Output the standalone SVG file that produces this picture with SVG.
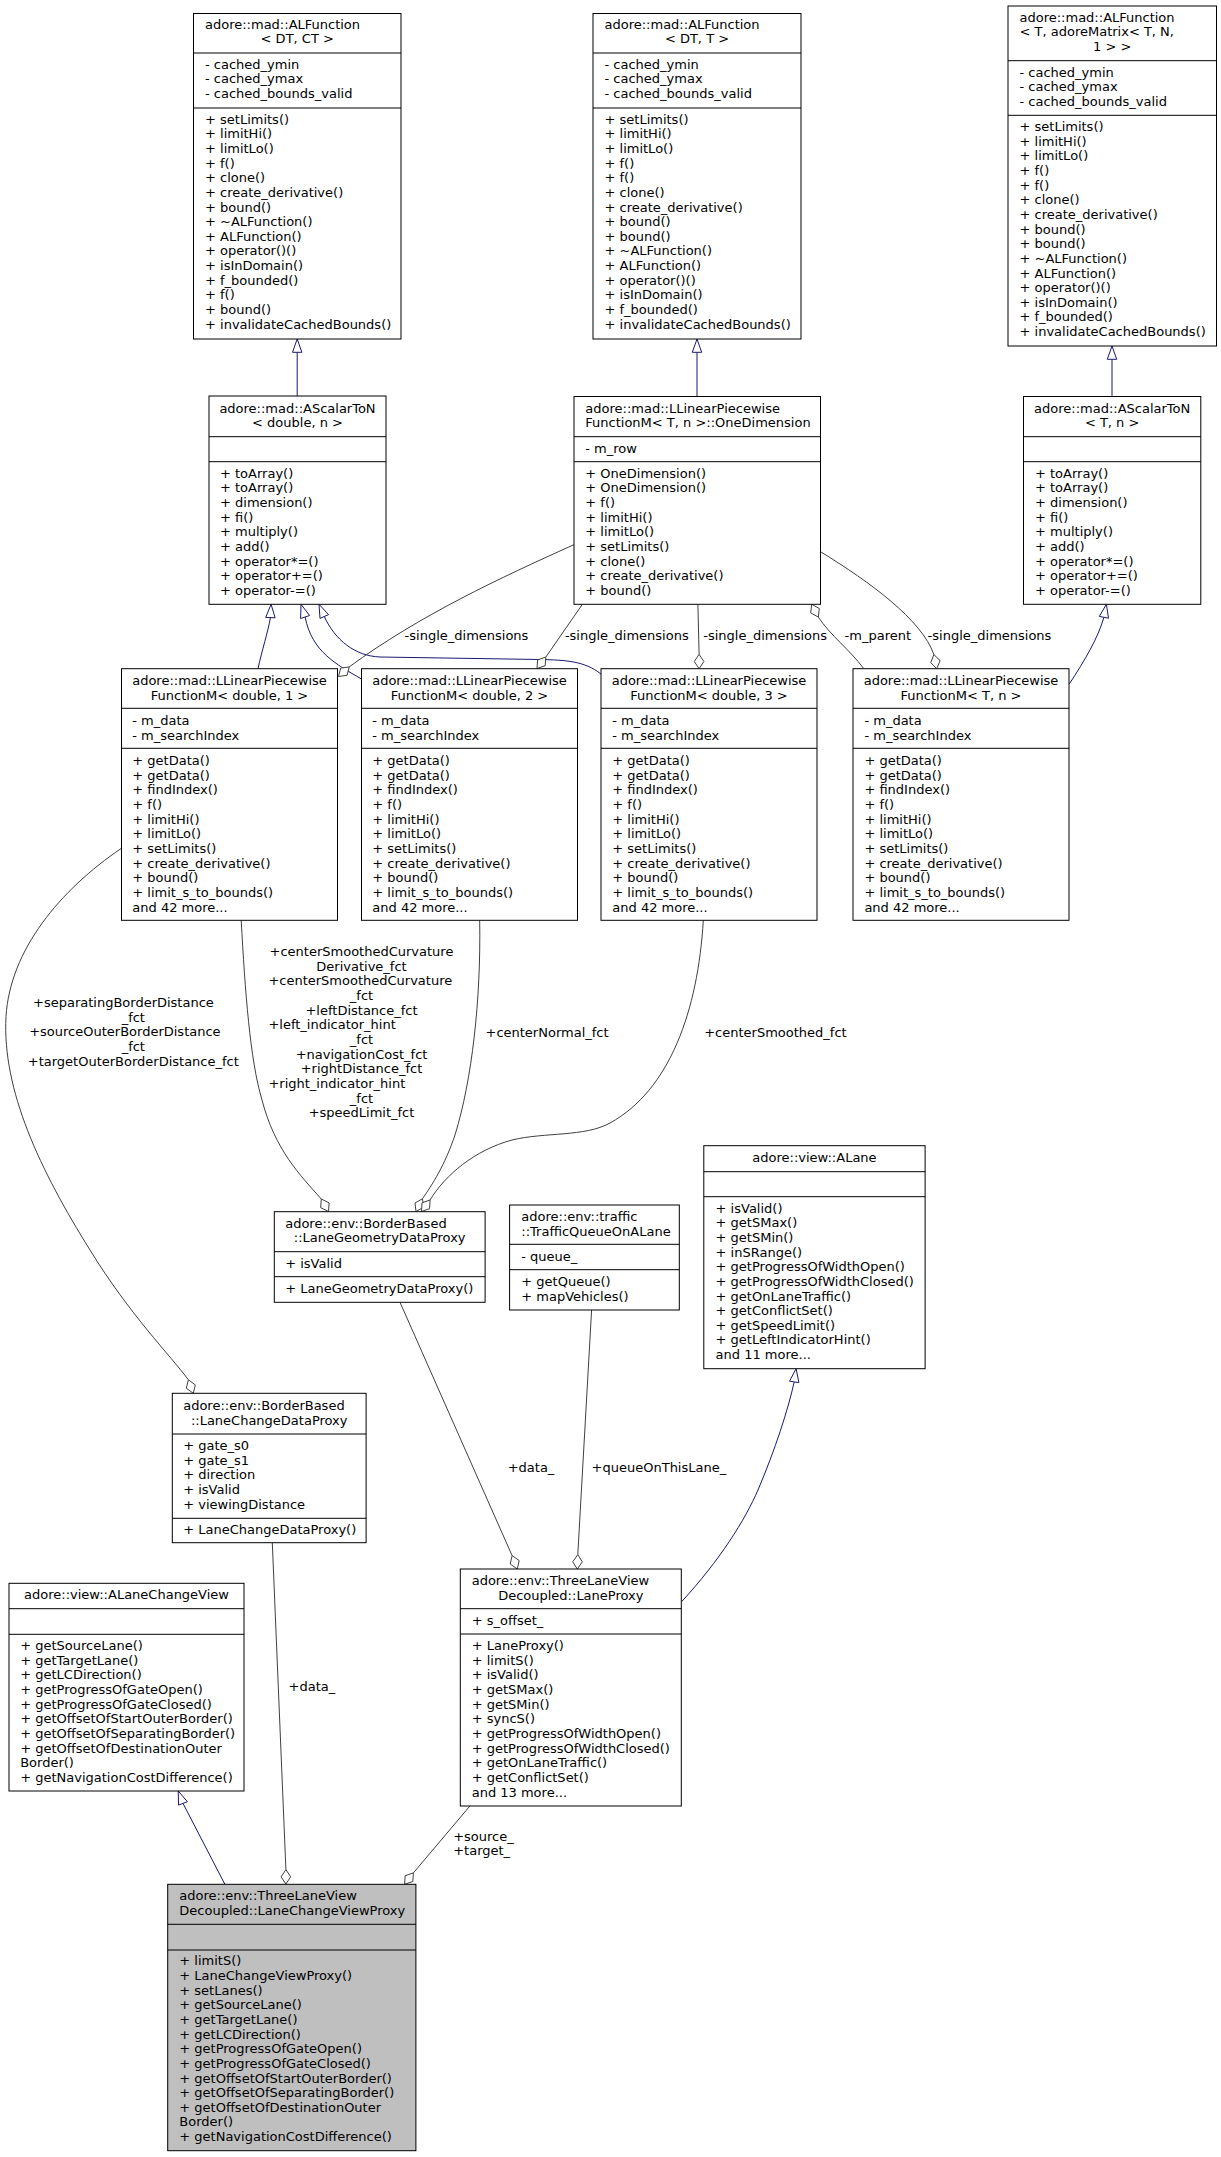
<svg xmlns="http://www.w3.org/2000/svg" width="1221" height="2157" viewBox="0 0 1221 2157">
<style>
rect{fill:#fff;stroke:#000;stroke-width:1}
rect.main{fill:#bfbfbf}
path.sep{stroke:#000;stroke-width:1;fill:none}
text{font-family:"DejaVu Sans",sans-serif;font-size:13px;fill:#000}
.c{text-anchor:middle}
.inh{stroke:#191970;fill:none;stroke-width:1}
.inhh{fill:#fff;stroke:#191970;stroke-width:1}
.agg{stroke:#404040;fill:none;stroke-width:1}
.aggh{fill:#fff;stroke:#404040;stroke-width:1}
</style>
<rect x="0" y="0" width="1221" height="2157" style="fill:#fff;stroke:none"/>
<g id="edges">
<!-- inheritance -->
<path class="inh" d="M297.2,396 V352.3"/>
<polygon class="inhh" points="297.2,339 301.9,352.3 292.5,352.3"/>
<path class="inh" d="M697,396.5 V352.3"/>
<polygon class="inhh" points="697,339 701.7,352.3 692.3,352.3"/>
<path class="inh" d="M1112,396.5 V359.3"/>
<polygon class="inhh" points="1112,346 1116.7,359.3 1107.3,359.3"/>
<path class="inh" d="M258,668.7 C262,650 268,632 270.4,617.6"/>
<polygon class="inhh" points="271.1,604.3 275.1,617.8 265.7,617.4"/>
<path class="inh" d="M361.4,679 C336,664 312,652 305.1,617"/>
<polygon class="inhh" points="301,604.3 309.6,615.5 300.6,618.5"/>
<path class="inh" d="M600.9,674 C585,661 565,660 540,659.5 L380,657 C355,656 335,640 324.3,616.5"/>
<polygon class="inhh" points="319,604.3 328.6,614.6 320,618.4"/>
<path class="inh" d="M1069.3,684 C1085,660 1098,638 1103.9,617.3"/>
<polygon class="inhh" points="1106.4,604.3 1108.5,618.2 1099.3,616.4"/>
<path class="inh" d="M681.6,1601.7 C720,1560 745,1520 758,1490 C775,1450 788,1410 794.2,1381.9"/>
<polygon class="inhh" points="796.1,1368.7 798.9,1382.6 789.5,1381.2"/>
<path class="inh" d="M224.9,1884.3 L183,1803.4"/>
<polygon class="inhh" points="178.2,1791 187.4,1801.7 178.6,1805.1"/>
<!-- aggregation -->
<path class="agg" d="M349.2,666.9 C420,615 500,578 573.9,544.7"/>
<polygon class="aggh" points="338.5,676.5 347.1,675.3 349.2,666.9 340.7,668.1"/>
<text x="404.6" y="640">-single_dimensions</text>
<path class="agg" d="M545.8,657.1 L582.4,604.3"/>
<polygon class="aggh" points="537,668.5 545.2,665.7 545.8,657.1 537.6,659.9"/>
<text x="564.9" y="640">-single_dimensions</text>
<path class="agg" d="M697.9,604.3 L699.1,654.3"/>
<polygon class="aggh" points="699.1,668.7 703.9,661.5 699.1,654.3 694.3,661.5"/>
<text x="703.3" y="640">-single_dimensions</text>
<path class="agg" d="M818.3,617.1 C830,635 850,650 863.5,668.3"/>
<polygon class="aggh" points="811.7,604.3 819.3,608.5 818.3,617.1 810.7,612.9"/>
<text x="844.6" y="640">-m_parent</text>
<path class="agg" d="M820.5,551.7 C870,582 922,620 933.9,654.6"/>
<polygon class="aggh" points="936.8,668.7 940.1,660.6 933.9,654.6 930.7,662.6"/>
<text x="927.6" y="640">-single_dimensions</text>
<path class="agg" d="M121.4,848.3 C60,890 10,950 6,1016.7 C2,1090 40,1170 90,1250 C130,1315 170,1355 188.4,1379.8"/>
<polygon class="aggh" points="193.3,1393.3 195.3,1384.9 188.4,1379.8 186.3,1388.2"/>
<text x="33" y="1007">+separatingBorderDistance</text>
<text class="c" x="133.3" y="1021.65">_fct</text>
<text x="29.2" y="1036.3">+sourceOuterBorderDistance</text>
<text class="c" x="133.3" y="1050.95">_fct</text>
<text class="c" x="133.3" y="1065.6">+targetOuterBorderDistance_fct</text>
<path class="agg" d="M241.2,920.3 C245,990 250,1060 262,1100 C275,1150 300,1175 321.3,1199"/>
<polygon class="aggh" points="328.5,1211.5 329.1,1202.9 321.3,1199 320.7,1207.7"/>
<text class="c" x="361.5" y="956">+centerSmoothedCurvature</text>
<text class="c" x="361.5" y="970.65">Derivative_fct</text>
<text x="268.4" y="985.3">+centerSmoothedCurvature</text>
<text class="c" x="361.5" y="999.95">_fct</text>
<text class="c" x="361.5" y="1014.6">+leftDistance_fct</text>
<text x="268.4" y="1029.25">+left_indicator_hint</text>
<text class="c" x="361.5" y="1043.9">_fct</text>
<text class="c" x="361.5" y="1058.55">+navigationCost_fct</text>
<text class="c" x="361.5" y="1073.2">+rightDistance_fct</text>
<text x="268.4" y="1087.85">+right_indicator_hint</text>
<text class="c" x="361.5" y="1102.5">_fct</text>
<text class="c" x="361.5" y="1117.15">+speedLimit_fct</text>
<path class="agg" d="M479.7,920.3 C481,1000 472,1080 455,1135 C445,1165 432,1185 422.5,1198.7"/>
<polygon class="aggh" points="416,1211.5 423.5,1207.3 422.5,1198.7 415,1203"/>
<text x="485.5" y="1036.6">+centerNormal_fct</text>
<path class="agg" d="M703.3,920.3 C698,1010 670,1090 610,1123 C585,1137 545,1132 512,1140 C475,1150 445,1175 430.1,1200"/>
<polygon class="aggh" points="421.5,1211.5 429.6,1208.6 430.1,1200 422,1202.8"/>
<text x="704.2" y="1036.6">+centerSmoothed_fct</text>
<path class="agg" d="M400,1302.3 L512.1,1555.6"/>
<polygon class="aggh" points="517.3,1569 519.2,1560.6 512.1,1555.6 510.2,1564"/>
<text x="507.7" y="1472">+data_</text>
<path class="agg" d="M591.6,1310 L577.8,1554.6"/>
<polygon class="aggh" points="577.3,1569 582.3,1561.8 577.8,1554.6 572.7,1561.8"/>
<text x="591.6" y="1472">+queueOnThisLane_</text>
<path class="agg" d="M272.3,1542.7 L285.9,1869.6"/>
<polygon class="aggh" points="285.9,1884 290.7,1876.8 285.9,1869.6 281.1,1876.8"/>
<text x="288.6" y="1691">+data_</text>
<path class="agg" d="M469.9,1806 L413.4,1872.9"/>
<polygon class="aggh" points="404.6,1884.3 412.8,1881.5 413.4,1872.9 405.2,1875.7"/>
<text x="453.2" y="1840.6">+source_</text>
<text x="453.2" y="1855.25">+target_</text>
</g>

<g id="ALFunction_DT_CT">
<rect x="193.5" y="13.5" width="207.5" height="325.5"/>
<path class="sep" d="M193.5,53H401M193.5,108H401"/>
<text x="205" y="28.6">adore::mad::ALFunction</text>
<text class="c" x="297.25" y="43.25">&lt; DT, CT &gt;</text>
<text x="205" y="68.6"><tspan x="205">- cached_ymin</tspan><tspan x="205" dy="14.65">- cached_ymax</tspan><tspan x="205" dy="14.65">- cached_bounds_valid</tspan></text>
<text x="205" y="123.6"><tspan x="205">+ setLimits()</tspan><tspan x="205" dy="14.65">+ limitHi()</tspan><tspan x="205" dy="14.65">+ limitLo()</tspan><tspan x="205" dy="14.65">+ f()</tspan><tspan x="205" dy="14.65">+ clone()</tspan><tspan x="205" dy="14.65">+ create_derivative()</tspan><tspan x="205" dy="14.65">+ bound()</tspan><tspan x="205" dy="14.65">+ ~ALFunction()</tspan><tspan x="205" dy="14.65">+ ALFunction()</tspan><tspan x="205" dy="14.65">+ operator()()</tspan><tspan x="205" dy="14.65">+ isInDomain()</tspan><tspan x="205" dy="14.65">+ f_bounded()</tspan><tspan x="205" dy="14.65">+ f()</tspan><tspan x="205" dy="14.65">+ bound()</tspan><tspan x="205" dy="14.65">+ invalidateCachedBounds()</tspan></text>
</g>

<g id="ALFunction_DT_T">
<rect x="593" y="13.5" width="208" height="325.5"/>
<path class="sep" d="M593,53H801M593,108H801"/>
<text x="604.5" y="28.6">adore::mad::ALFunction</text>
<text class="c" x="697" y="43.25">&lt; DT, T &gt;</text>
<text x="604.5" y="68.6"><tspan x="604.5">- cached_ymin</tspan><tspan x="604.5" dy="14.65">- cached_ymax</tspan><tspan x="604.5" dy="14.65">- cached_bounds_valid</tspan></text>
<text x="604.5" y="123.6"><tspan x="604.5">+ setLimits()</tspan><tspan x="604.5" dy="14.65">+ limitHi()</tspan><tspan x="604.5" dy="14.65">+ limitLo()</tspan><tspan x="604.5" dy="14.65">+ f()</tspan><tspan x="604.5" dy="14.65">+ f()</tspan><tspan x="604.5" dy="14.65">+ clone()</tspan><tspan x="604.5" dy="14.65">+ create_derivative()</tspan><tspan x="604.5" dy="14.65">+ bound()</tspan><tspan x="604.5" dy="14.65">+ bound()</tspan><tspan x="604.5" dy="14.65">+ ~ALFunction()</tspan><tspan x="604.5" dy="14.65">+ ALFunction()</tspan><tspan x="604.5" dy="14.65">+ operator()()</tspan><tspan x="604.5" dy="14.65">+ isInDomain()</tspan><tspan x="604.5" dy="14.65">+ f_bounded()</tspan><tspan x="604.5" dy="14.65">+ invalidateCachedBounds()</tspan></text>
</g>

<g id="ALFunction_T_Matrix">
<rect x="1008" y="6" width="208.5" height="340"/>
<path class="sep" d="M1008,60.7H1216.5M1008,115.3H1216.5"/>
<text x="1019.5" y="21.6">adore::mad::ALFunction</text>
<text x="1019.5" y="36.25">&lt; T, adoreMatrix&lt; T, N,</text>
<text class="c" x="1112.25" y="50.9">1 &gt; &gt;</text>
<text x="1019.5" y="76.6"><tspan x="1019.5">- cached_ymin</tspan><tspan x="1019.5" dy="14.65">- cached_ymax</tspan><tspan x="1019.5" dy="14.65">- cached_bounds_valid</tspan></text>
<text x="1019.5" y="131"><tspan x="1019.5">+ setLimits()</tspan><tspan x="1019.5" dy="14.65">+ limitHi()</tspan><tspan x="1019.5" dy="14.65">+ limitLo()</tspan><tspan x="1019.5" dy="14.65">+ f()</tspan><tspan x="1019.5" dy="14.65">+ f()</tspan><tspan x="1019.5" dy="14.65">+ clone()</tspan><tspan x="1019.5" dy="14.65">+ create_derivative()</tspan><tspan x="1019.5" dy="14.65">+ bound()</tspan><tspan x="1019.5" dy="14.65">+ bound()</tspan><tspan x="1019.5" dy="14.65">+ ~ALFunction()</tspan><tspan x="1019.5" dy="14.65">+ ALFunction()</tspan><tspan x="1019.5" dy="14.65">+ operator()()</tspan><tspan x="1019.5" dy="14.65">+ isInDomain()</tspan><tspan x="1019.5" dy="14.65">+ f_bounded()</tspan><tspan x="1019.5" dy="14.65">+ invalidateCachedBounds()</tspan></text>
</g>

<g id="AScalarToN_double_n">
<rect x="209" y="396" width="177" height="208.3"/>
<path class="sep" d="M209,436.7H386M209,461.7H386"/>
<text class="c" x="297.5" y="412.6">adore::mad::AScalarToN</text>
<text class="c" x="297.5" y="427.25">&lt; double, n &gt;</text>
<text x="220" y="477.6"><tspan x="220">+ toArray()</tspan><tspan x="220" dy="14.65">+ toArray()</tspan><tspan x="220" dy="14.65">+ dimension()</tspan><tspan x="220" dy="14.65">+ fi()</tspan><tspan x="220" dy="14.65">+ multiply()</tspan><tspan x="220" dy="14.65">+ add()</tspan><tspan x="220" dy="14.65">+ operator*=()</tspan><tspan x="220" dy="14.65">+ operator+=()</tspan><tspan x="220" dy="14.65">+ operator-=()</tspan></text>
</g>

<g id="OneDimension">
<rect x="574" y="396.5" width="246.5" height="207.8"/>
<path class="sep" d="M574,436.7H820.5M574,461.7H820.5"/>
<text x="585.3" y="412.6">adore::mad::LLinearPiecewise</text>
<text x="585.3" y="427.25">FunctionM&lt; T, n &gt;::OneDimension</text>
<text x="585.3" y="453.3">- m_row</text>
<text x="585.3" y="477.6"><tspan x="585.3">+ OneDimension()</tspan><tspan x="585.3" dy="14.65">+ OneDimension()</tspan><tspan x="585.3" dy="14.65">+ f()</tspan><tspan x="585.3" dy="14.65">+ limitHi()</tspan><tspan x="585.3" dy="14.65">+ limitLo()</tspan><tspan x="585.3" dy="14.65">+ setLimits()</tspan><tspan x="585.3" dy="14.65">+ clone()</tspan><tspan x="585.3" dy="14.65">+ create_derivative()</tspan><tspan x="585.3" dy="14.65">+ bound()</tspan></text>
</g>

<g id="AScalarToN_T_n">
<rect x="1023.5" y="396.5" width="177.3" height="207.8"/>
<path class="sep" d="M1023.5,436.7H1200.8M1023.5,461.7H1200.8"/>
<text class="c" x="1112.15" y="412.6">adore::mad::AScalarToN</text>
<text class="c" x="1112.15" y="427.25">&lt; T, n &gt;</text>
<text x="1035" y="477.6"><tspan x="1035">+ toArray()</tspan><tspan x="1035" dy="14.65">+ toArray()</tspan><tspan x="1035" dy="14.65">+ dimension()</tspan><tspan x="1035" dy="14.65">+ fi()</tspan><tspan x="1035" dy="14.65">+ multiply()</tspan><tspan x="1035" dy="14.65">+ add()</tspan><tspan x="1035" dy="14.65">+ operator*=()</tspan><tspan x="1035" dy="14.65">+ operator+=()</tspan><tspan x="1035" dy="14.65">+ operator-=()</tspan></text>
</g>

<g id="LLPF_double_1">
<rect x="121.5" y="668.7" width="216" height="251.6"/>
<path class="sep" d="M121.5,708.3H337.5M121.5,748.3H337.5"/>
<text class="c" x="229.5" y="685">adore::mad::LLinearPiecewise</text>
<text class="c" x="229.5" y="699.65">FunctionM&lt; double, 1 &gt;</text>
<text x="132.3" y="725"><tspan x="132.3">- m_data</tspan><tspan x="132.3" dy="14.65">- m_searchIndex</tspan></text>
<text x="132.3" y="765"><tspan x="132.3">+ getData()</tspan><tspan x="132.3" dy="14.65">+ getData()</tspan><tspan x="132.3" dy="14.65">+ findIndex()</tspan><tspan x="132.3" dy="14.65">+ f()</tspan><tspan x="132.3" dy="14.65">+ limitHi()</tspan><tspan x="132.3" dy="14.65">+ limitLo()</tspan><tspan x="132.3" dy="14.65">+ setLimits()</tspan><tspan x="132.3" dy="14.65">+ create_derivative()</tspan><tspan x="132.3" dy="14.65">+ bound()</tspan><tspan x="132.3" dy="14.65">+ limit_s_to_bounds()</tspan><tspan x="132.3" dy="14.65">and 42 more...</tspan></text>
</g>

<g id="LLPF_double_2">
<rect x="361.5" y="668.7" width="216" height="251.6"/>
<path class="sep" d="M361.5,708.3H577.5M361.5,748.3H577.5"/>
<text class="c" x="469.5" y="685">adore::mad::LLinearPiecewise</text>
<text class="c" x="469.5" y="699.65">FunctionM&lt; double, 2 &gt;</text>
<text x="372.3" y="725"><tspan x="372.3">- m_data</tspan><tspan x="372.3" dy="14.65">- m_searchIndex</tspan></text>
<text x="372.3" y="765"><tspan x="372.3">+ getData()</tspan><tspan x="372.3" dy="14.65">+ getData()</tspan><tspan x="372.3" dy="14.65">+ findIndex()</tspan><tspan x="372.3" dy="14.65">+ f()</tspan><tspan x="372.3" dy="14.65">+ limitHi()</tspan><tspan x="372.3" dy="14.65">+ limitLo()</tspan><tspan x="372.3" dy="14.65">+ setLimits()</tspan><tspan x="372.3" dy="14.65">+ create_derivative()</tspan><tspan x="372.3" dy="14.65">+ bound()</tspan><tspan x="372.3" dy="14.65">+ limit_s_to_bounds()</tspan><tspan x="372.3" dy="14.65">and 42 more...</tspan></text>
</g>

<g id="LLPF_double_3">
<rect x="601" y="668.7" width="216" height="251.6"/>
<path class="sep" d="M601,708.3H817M601,748.3H817"/>
<text class="c" x="709" y="685">adore::mad::LLinearPiecewise</text>
<text class="c" x="709" y="699.65">FunctionM&lt; double, 3 &gt;</text>
<text x="612.3" y="725"><tspan x="612.3">- m_data</tspan><tspan x="612.3" dy="14.65">- m_searchIndex</tspan></text>
<text x="612.3" y="765"><tspan x="612.3">+ getData()</tspan><tspan x="612.3" dy="14.65">+ getData()</tspan><tspan x="612.3" dy="14.65">+ findIndex()</tspan><tspan x="612.3" dy="14.65">+ f()</tspan><tspan x="612.3" dy="14.65">+ limitHi()</tspan><tspan x="612.3" dy="14.65">+ limitLo()</tspan><tspan x="612.3" dy="14.65">+ setLimits()</tspan><tspan x="612.3" dy="14.65">+ create_derivative()</tspan><tspan x="612.3" dy="14.65">+ bound()</tspan><tspan x="612.3" dy="14.65">+ limit_s_to_bounds()</tspan><tspan x="612.3" dy="14.65">and 42 more...</tspan></text>
</g>

<g id="LLPF_T_n">
<rect x="853" y="668.7" width="216" height="251.6"/>
<path class="sep" d="M853,708.3H1069M853,748.3H1069"/>
<text class="c" x="961" y="685">adore::mad::LLinearPiecewise</text>
<text class="c" x="961" y="699.65">FunctionM&lt; T, n &gt;</text>
<text x="864.4" y="725"><tspan x="864.4">- m_data</tspan><tspan x="864.4" dy="14.65">- m_searchIndex</tspan></text>
<text x="864.4" y="765"><tspan x="864.4">+ getData()</tspan><tspan x="864.4" dy="14.65">+ getData()</tspan><tspan x="864.4" dy="14.65">+ findIndex()</tspan><tspan x="864.4" dy="14.65">+ f()</tspan><tspan x="864.4" dy="14.65">+ limitHi()</tspan><tspan x="864.4" dy="14.65">+ limitLo()</tspan><tspan x="864.4" dy="14.65">+ setLimits()</tspan><tspan x="864.4" dy="14.65">+ create_derivative()</tspan><tspan x="864.4" dy="14.65">+ bound()</tspan><tspan x="864.4" dy="14.65">+ limit_s_to_bounds()</tspan><tspan x="864.4" dy="14.65">and 42 more...</tspan></text>
</g>

<g id="LaneGeometryDataProxy">
<rect x="274.3" y="1211.7" width="210.8" height="90.6"/>
<path class="sep" d="M274.3,1251.7H485.1M274.3,1276.7H485.1"/>
<text x="285.2" y="1227.6">adore::env::BorderBased</text>
<text class="c" x="379.7" y="1242.25">::LaneGeometryDataProxy</text>
<text x="285.2" y="1267.6">+ isValid</text>
<text x="285.2" y="1293">+ LaneGeometryDataProxy()</text>
</g>

<g id="TrafficQueueOnALane">
<rect x="509.6" y="1205" width="169.7" height="105"/>
<path class="sep" d="M509.6,1244.3H679.3M509.6,1269.7H679.3"/>
<text x="521.3" y="1221">adore::env::traffic</text>
<text x="521.3" y="1235.65">::TrafficQueueOnALane</text>
<text x="521.3" y="1261">- queue_</text>
<text x="521.3" y="1286"><tspan x="521.3">+ getQueue()</tspan><tspan x="521.3" dy="14.65">+ mapVehicles()</tspan></text>
</g>

<g id="ALane">
<rect x="703.8" y="1145.7" width="221.3" height="223"/>
<path class="sep" d="M703.8,1171.7H925.1M703.8,1196.7H925.1"/>
<text class="c" x="814.45" y="1161.6">adore::view::ALane</text>
<text x="715.6" y="1212.6"><tspan x="715.6">+ isValid()</tspan><tspan x="715.6" dy="14.65">+ getSMax()</tspan><tspan x="715.6" dy="14.65">+ getSMin()</tspan><tspan x="715.6" dy="14.65">+ inSRange()</tspan><tspan x="715.6" dy="14.65">+ getProgressOfWidthOpen()</tspan><tspan x="715.6" dy="14.65">+ getProgressOfWidthClosed()</tspan><tspan x="715.6" dy="14.65">+ getOnLaneTraffic()</tspan><tspan x="715.6" dy="14.65">+ getConflictSet()</tspan><tspan x="715.6" dy="14.65">+ getSpeedLimit()</tspan><tspan x="715.6" dy="14.65">+ getLeftIndicatorHint()</tspan><tspan x="715.6" dy="14.65">and 11 more...</tspan></text>
</g>

<g id="LaneChangeDataProxy">
<rect x="172.3" y="1393.3" width="193.8" height="149.4"/>
<path class="sep" d="M172.3,1434H366.1M172.3,1518.3H366.1"/>
<text x="183.2" y="1410">adore::env::BorderBased</text>
<text class="c" x="269.2" y="1424.65">::LaneChangeDataProxy</text>
<text x="183.2" y="1450"><tspan x="183.2">+ gate_s0</tspan><tspan x="183.2" dy="14.65">+ gate_s1</tspan><tspan x="183.2" dy="14.65">+ direction</tspan><tspan x="183.2" dy="14.65">+ isValid</tspan><tspan x="183.2" dy="14.65">+ viewingDistance</tspan></text>
<text x="183.2" y="1533.6">+ LaneChangeDataProxy()</text>
</g>

<g id="ALaneChangeView">
<rect x="9" y="1583.3" width="235" height="207.7"/>
<path class="sep" d="M9,1608.7H244M9,1634.3H244"/>
<text class="c" x="126.5" y="1598.6">adore::view::ALaneChangeView</text>
<text x="20.2" y="1650"><tspan x="20.2">+ getSourceLane()</tspan><tspan x="20.2" dy="14.65">+ getTargetLane()</tspan><tspan x="20.2" dy="14.65">+ getLCDirection()</tspan><tspan x="20.2" dy="14.65">+ getProgressOfGateOpen()</tspan><tspan x="20.2" dy="14.65">+ getProgressOfGateClosed()</tspan><tspan x="20.2" dy="14.65">+ getOffsetOfStartOuterBorder()</tspan><tspan x="20.2" dy="14.65">+ getOffsetOfSeparatingBorder()</tspan><tspan x="20.2" dy="14.65">+ getOffsetOfDestinationOuter</tspan><tspan x="20.2" dy="14.65">Border()</tspan><tspan x="20.2" dy="14.65">+ getNavigationCostDifference()</tspan></text>
</g>

<g id="LaneProxy">
<rect x="460.3" y="1569" width="221" height="237"/>
<path class="sep" d="M460.3,1608.7H681.3M460.3,1634H681.3"/>
<text x="471.7" y="1585">adore::env::ThreeLaneView</text>
<text class="c" x="570.8" y="1599.65">Decoupled::LaneProxy</text>
<text x="471.7" y="1625">+ s_offset_</text>
<text x="471.7" y="1650"><tspan x="471.7">+ LaneProxy()</tspan><tspan x="471.7" dy="14.65">+ limitS()</tspan><tspan x="471.7" dy="14.65">+ isValid()</tspan><tspan x="471.7" dy="14.65">+ getSMax()</tspan><tspan x="471.7" dy="14.65">+ getSMin()</tspan><tspan x="471.7" dy="14.65">+ syncS()</tspan><tspan x="471.7" dy="14.65">+ getProgressOfWidthOpen()</tspan><tspan x="471.7" dy="14.65">+ getProgressOfWidthClosed()</tspan><tspan x="471.7" dy="14.65">+ getOnLaneTraffic()</tspan><tspan x="471.7" dy="14.65">+ getConflictSet()</tspan><tspan x="471.7" dy="14.65">and 13 more...</tspan></text>
</g>

<g id="LaneChangeViewProxy">
<rect class="main" x="167.7" y="1884.3" width="248.2" height="266.4"/>
<path class="sep" d="M167.7,1924.3H415.9M167.7,1950H415.9"/>
<text x="179.3" y="1900.3">adore::env::ThreeLaneView</text>
<text x="179.3" y="1914.95">Decoupled::LaneChangeViewProxy</text>
<text x="179.3" y="1965.3"><tspan x="179.3">+ limitS()</tspan><tspan x="179.3" dy="14.65">+ LaneChangeViewProxy()</tspan><tspan x="179.3" dy="14.65">+ setLanes()</tspan><tspan x="179.3" dy="14.65">+ getSourceLane()</tspan><tspan x="179.3" dy="14.65">+ getTargetLane()</tspan><tspan x="179.3" dy="14.65">+ getLCDirection()</tspan><tspan x="179.3" dy="14.65">+ getProgressOfGateOpen()</tspan><tspan x="179.3" dy="14.65">+ getProgressOfGateClosed()</tspan><tspan x="179.3" dy="14.65">+ getOffsetOfStartOuterBorder()</tspan><tspan x="179.3" dy="14.65">+ getOffsetOfSeparatingBorder()</tspan><tspan x="179.3" dy="14.65">+ getOffsetOfDestinationOuter</tspan><tspan x="179.3" dy="14.65">Border()</tspan><tspan x="179.3" dy="14.65">+ getNavigationCostDifference()</tspan></text>
</g>
</svg>
